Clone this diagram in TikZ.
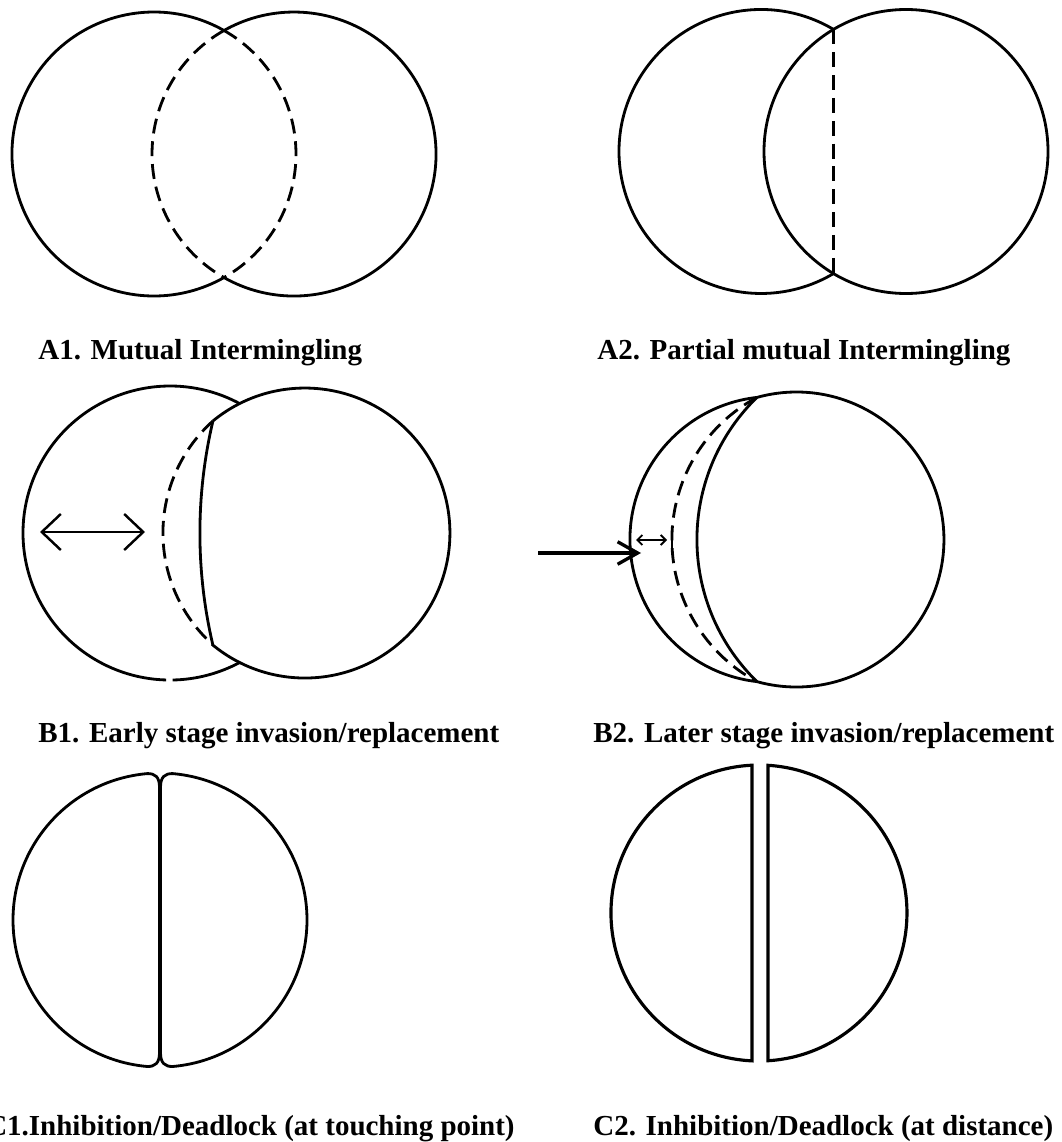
\documentclass[tikz,border=0pt]{standalone}
\usepackage{fontspec}
\setmainfont{Liberation Serif}
\usetikzlibrary{arrows.meta}

\begin{document}
\begin{tikzpicture}[
  x=0.02cm, y=-0.02cm,
  outline/.style={line width=1.6pt},
  hidden/.style={line width=1.6pt, dash pattern=on 8.5pt off 4.5pt},
  caption/.style={anchor=base west, inner sep=0pt, font=\fontsize{16.5}{20}\selectfont\bfseries},
  dbl/.style={line width=1.4pt, {Straight Barb[length=0.38cm, width=0.72cm]}-{Straight Barb[length=0.38cm, width=0.72cm]}},
  push/.style={line width=1.9pt, -{Straight Barb[length=0.4cm, width=0.45cm]}},
  gapbar/.style={line width=1.1pt, {Straight Barb[length=0.1cm, width=0.2cm]}-{Straight Barb[length=0.1cm, width=0.2cm]}}
]
  \useasboundingbox (0,0) rectangle (1061,1142);

  \coordinate (a1t) at (224,30.5);
  \coordinate (a2t) at (833.5,29.4);
  \coordinate (a2b) at (833.5,273.6);
  \coordinate (b1t) at (239.7,403.6);
  \coordinate (b1g) at (172.6,680);
  \coordinate (b1i) at (212.9,421);
  \coordinate (b2t) at (757,397.4);
  \coordinate (b1a) at (40,532);
  \coordinate (b1b) at (145,532);
  \coordinate (b2a) at (538,553);
  \coordinate (b2b) at (641,553);
  \coordinate (b2c) at (636,540);
  \coordinate (b2d) at (667,540);
  \coordinate (b2e) at (672,532);
  \coordinate (b2f) at (672,549);

  \draw[outline] (a1t) arc[start angle=-60.45, end angle=-299.55, radius=142]
    arc[start angle=119.55, end angle=-119.55, radius=142];
  \draw[hidden] (a1t) arc[start angle=-60.45, end angle=60.45, radius=142];
  \draw[hidden] (a1t) arc[start angle=-119.55, end angle=-240.45, radius=142];

  \draw[outline] (a2t) arc[start angle=-59.3, end angle=-300.7, radius=142];
  \draw[outline] (906,151.5) circle[radius=142];
  \draw[hidden] (a2t) -- (a2b);

  \draw[outline] (b1t) arc[start angle=-61.7, end angle=-268.5, radius=147];
  \draw[outline] (b1g) arc[start angle=89, end angle=61.7, radius=147];
  \draw[outline] (b1i) arc[start angle=-129.4, end angle=129.4, radius=145]
    arc[start angle=166.76, end angle=193.24, radius=489];
  \draw[hidden] (b1i) arc[start angle=228.1, end angle=131.9, radius=150.4];
  \draw[dbl] (b1a) -- (b1b);

  \draw[outline] (b2t) arc[start angle=-105.5, end angle=105.5, radius=147.5]
    arc[start angle=134.2, end angle=225.8, radius=198.3];
  \draw[outline] (b2t) arc[start angle=263.6, end angle=96.4, radius=143];
  \draw[hidden] (b2t) arc[start angle=241.8, end angle=118.2, radius=161.3];
  \draw[push] (b2a) -- (b2b);
  \draw[gapbar] (b2c) -- (b2d);
  \draw[line width=1.1pt] (b2e) -- (b2f);

  \draw[outline] (159.5,787) .. controls (159.5,777) and (155,773.3) .. (147.2,773.6)
    arc[start angle=-95, end angle=-265, radius=147]
    .. controls (155,1066.7) and (159.5,1063) .. (159.5,1053) -- cycle;
  \draw[outline] (160.5,787) .. controls (160.5,777) and (165,773.3) .. (172.8,773.6)
    arc[start angle=-85, end angle=85, radius=147]
    .. controls (165,1066.7) and (160.5,1063) .. (160.5,1053) -- cycle;

  \draw[outline, line width=1.8pt] (752,765.2) arc[start angle=-92.7, end angle=-267.3, radius=148] -- cycle;
  \draw[outline, line width=1.8pt] (768,765.3) arc[start angle=-86.5, end angle=86.5, radius=148] -- cycle;

  \node[caption] (capA1) at (38,359) {A1. Mutual Intermingling};
  \node[caption] (capA2) at (597,359) {A2. Partial mutual Intermingling};
  \node[caption] (capB1) at (38,742) {B1. Early stage invasion/replacement};
  \node[caption] (capB2) at (593,742) {B2. Later stage invasion/replacement};
  \node[caption, anchor=base east] (capC1) at (515,1135) {C1.Inhibition/Deadlock (at touching point)};
  \node[caption] (capC2) at (593,1135) {C2. Inhibition/Deadlock (at distance)};
\end{tikzpicture}
\end{document}
